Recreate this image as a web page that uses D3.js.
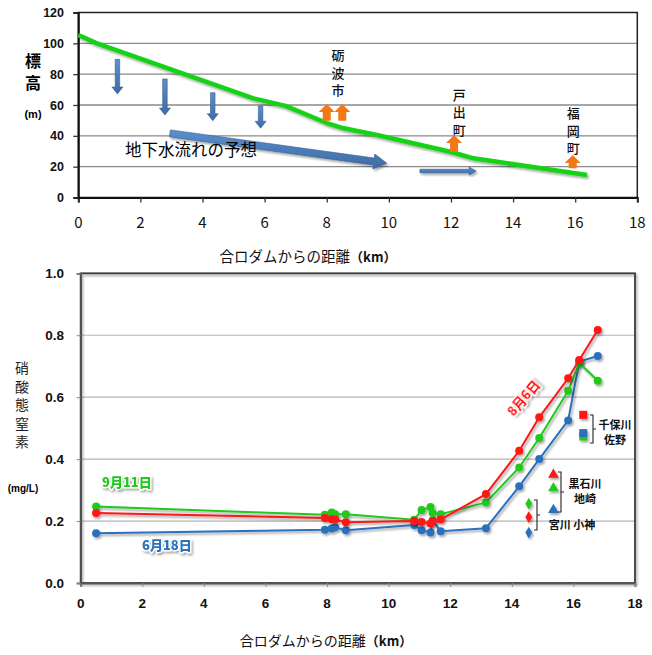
<!DOCTYPE html>
<html>
<head>
<meta charset="utf-8">
<script src="https://cdn.jsdelivr.net/npm/d3@7"></script>
<style>
  body { margin: 0; background: #fff; }
  svg { display: block; }
</style>
</head>
<body>
<svg id="chart" width="652" height="655"></svg>
<script>
// ---- top chart: elevation along the river ----
var elevKm = [0, 0.6, 5.64, 6.67, 8.0, 8.55, 9.62, 11.98, 12.73, 16.38];
var elevM  = [105.4, 100, 64.3, 59.4, 48.3, 44.9, 40.5, 29.7, 25.4, 14.6];
var topYTicks = [0, 20, 40, 60, 80, 100, 120];
var xTicks = [0, 2, 4, 6, 8, 10, 12, 14, 16, 18];

// downward seepage arrows: km, from, to (m)
var seepKm   = [1.26, 2.79, 4.33, 5.87];
var seepFrom = [89.6, 76.9, 68, 59.4];
var seepTo   = [67.1, 53.5, 49.8, 44.9];

// groundwater flow arrows
var flowArrows = [
  {x1: 2.95, y1: 41.6, x2: 9.93, y2: 22.2, big: true},
  {x1: 11.0, y1: 17.2, x2: 12.81, y2: 17.2, big: false}
];

// towns (orange arrows + labels)
var towns = ["砺波市", "戸出町", "福岡町"];
var townLabelKm = [8.36, 12.27, 15.94];
var townLabelTop = [92.4, 66.5, 54.6];
var townArrowKm = [[8.0, 8.5], [12.1], [15.92]];
var townArrowFrom = [49.8, 29.6, 18.9];
var townArrowTo = [60.6, 40.5, 27.6];

// ---- bottom chart: nitrate nitrogen ----
var distKm = [0.5, 7.93, 8.15, 8.26, 8.61, 10.83, 11.07, 11.36, 11.43, 11.69, 13.16, 14.24, 14.89, 15.83, 16.19, 16.79];
var aug6  = [0.226, 0.21, 0.206, 0.205, 0.196, 0.2, 0.197, 0.192, 0.2, 0.205, 0.287, 0.427, 0.535, 0.661, 0.72, 0.817];
var sep11 = [0.247, 0.22, 0.228, 0.222, 0.222, 0.204, 0.236, 0.245, 0.226, 0.222, 0.26, 0.373, 0.468, 0.621, 0.71, 0.653];
var jun18 = [0.161, 0.172, 0.176, 0.18, 0.17, 0.187, 0.17, 0.163, 0.202, 0.167, 0.177, 0.312, 0.4, 0.525, 0.715, 0.733];
var botYTicks = [0, 0.2, 0.4, 0.6, 0.8, 1.0];

// tributaries: km position, value per date [aug6, sep11, jun18]
var tribKm = {square: 16.32, triangle: 15.35, diamond: 14.55};
var tribSquare   = [0.543, 0.473, 0.484];
var tribTriangle = [0.35, 0.306, 0.236];
var tribDiamond  = [0.213, 0.256, 0.163];

var RED = "#ff1414", GREEN = "#22c81e", BLUE = "#2b71bd";
var JP = "'Noto Sans CJK JP', sans-serif";
var LAT = "'Liberation Sans', Arial, sans-serif";

var svg = d3.select("#chart");
var defs = svg.append("defs");
var f = defs.append("filter").attr("id", "shadow").attr("x", "-20%").attr("y", "-20%").attr("width", "140%").attr("height", "140%");
f.append("feDropShadow").attr("dx", 1.5).attr("dy", 2).attr("stdDeviation", 1.2)
  .attr("flood-color", "#000").attr("flood-opacity", 0.35);
var g1 = defs.append("linearGradient").attr("id", "blueGrad").attr("x1", 0).attr("y1", 0).attr("x2", 0).attr("y2", 1);
g1.append("stop").attr("offset", "0%").attr("stop-color", "#5b8fcf");
g1.append("stop").attr("offset", "100%").attr("stop-color", "#3d6aa6");

function arrowPts(x1, y1, x2, y2, sw, hw, hl) {
  var dx = x2 - x1, dy = y2 - y1, L = Math.hypot(dx, dy);
  var ux = dx / L, uy = dy / L, nx = -uy, ny = ux;
  var bx = x2 - ux * hl, by = y2 - uy * hl;
  return [[x1 + nx * sw / 2, y1 + ny * sw / 2], [bx + nx * sw / 2, by + ny * sw / 2],
          [bx + nx * hw / 2, by + ny * hw / 2], [x2, y2],
          [bx - nx * hw / 2, by - ny * hw / 2], [bx - nx * sw / 2, by - ny * sw / 2],
          [x1 - nx * sw / 2, y1 - ny * sw / 2]].map(function(p){ return p.join(","); }).join(" ");
}

// ================= TOP =================
var xT = d3.scaleLinear().domain([0, 18]).range([78.3, 637.3]);
var yT = d3.scaleLinear().domain([0, 120]).range([197.5, 12.5]);
var gTop = svg.append("g");

gTop.append("g").selectAll("line").data(topYTicks.filter(function(d){ return d > 0 && d < 120; }))
  .enter().append("line")
  .attr("x1", xT(0)).attr("x2", xT(18))
  .attr("y1", function(d){ return yT(d); }).attr("y2", function(d){ return yT(d); })
  .attr("stroke", "#8a8a8a").attr("stroke-width", 1.3);

gTop.append("rect").attr("x", xT(0)).attr("y", yT(120))
  .attr("width", xT(18) - xT(0)).attr("height", yT(0) - yT(120))
  .attr("fill", "none").attr("stroke", "#222").attr("stroke-width", 1.5);

var axT = gTop.append("g").attr("transform", "translate(0," + yT(0) + ")")
  .call(d3.axisBottom(xT).tickValues(xTicks).tickSize(5).tickFormat(""));
axT.select(".domain").attr("stroke", "#111").attr("stroke-width", 2);
axT.selectAll(".tick line").attr("stroke", "#333").attr("stroke-width", 1.3);
var ayT = gTop.append("g").attr("transform", "translate(" + xT(0) + ",0)")
  .call(d3.axisLeft(yT).tickValues(topYTicks).tickSize(5).tickFormat(""));
ayT.select(".domain").attr("stroke", "#111").attr("stroke-width", 2);
ayT.selectAll(".tick line").attr("stroke", "#333").attr("stroke-width", 1.3);

gTop.append("g").selectAll("text").data(topYTicks).enter().append("text")
  .attr("x", 64).attr("y", function(d){ return yT(d) + 4.5; })
  .attr("text-anchor", "end").attr("font-family", LAT).attr("font-weight", "bold")
  .attr("font-size", 12.5).attr("fill", "#111").text(function(d){ return d; });
gTop.append("g").selectAll("text").data(xTicks).enter().append("text")
  .attr("x", function(d){ return xT(d); }).attr("y", 228)
  .attr("text-anchor", "middle").attr("font-family", JP)
  .attr("font-size", 15).attr("fill", "#111").text(function(d){ return d; });

var tAx = gTop.append("text").attr("x", 308).attr("y", 262).attr("text-anchor", "middle")
  .attr("font-family", JP).attr("font-size", 14.5).attr("fill", "#111");
tAx.append("tspan").text("合ロダムからの距離");
tAx.append("tspan").attr("font-weight", "bold").attr("font-size", 13).text("（km）");

gTop.append("text").attr("x", 33).attr("y", 67).attr("text-anchor", "middle")
  .attr("font-family", JP).attr("font-weight", "bold").attr("font-size", 16).text("標");
gTop.append("text").attr("x", 33).attr("y", 89).attr("text-anchor", "middle")
  .attr("font-family", JP).attr("font-weight", "bold").attr("font-size", 16).text("高");
gTop.append("text").attr("x", 33).attr("y", 118).attr("text-anchor", "middle")
  .attr("font-family", LAT).attr("font-weight", "bold").attr("font-size", 11).text("(m)");

// seepage arrows
gTop.append("g").selectAll("polygon").data(seepKm).enter().append("polygon")
  .attr("points", function(d, i){ return arrowPts(xT(d), yT(seepFrom[i]), xT(d), yT(seepTo[i]), 4.5, 11, 7); })
  .attr("fill", "url(#blueGrad)").attr("stroke", "#385d8a").attr("stroke-width", 0.6);

// flow arrows
gTop.append("g").selectAll("polygon").data(flowArrows).enter().append("polygon")
  .attr("points", function(d){
    return d.big ? arrowPts(xT(d.x1), yT(d.y1), xT(d.x2), yT(d.y2), 7, 15, 13)
                 : arrowPts(xT(d.x1), yT(d.y1), xT(d.x2), yT(d.y2), 3.5, 8, 7);
  })
  .attr("fill", "url(#blueGrad)").attr("stroke", "#385d8a").attr("stroke-width", 0.6)
  .attr("filter", "url(#shadow)");

gTop.append("text").attr("x", 125).attr("y", 156).attr("font-family", JP)
  .attr("font-size", 16.5).attr("fill", "#000").text("地下水流れの予想");

// elevation line
var elevLine = d3.line().x(function(d){ return xT(d[0]); }).y(function(d){ return yT(d[1]); });
gTop.append("path").datum(elevKm.map(function(k, i){ return [k, elevM[i]]; }))
  .attr("d", elevLine).attr("fill", "none").attr("stroke", "#19d219")
  .attr("stroke-width", 4.5).attr("stroke-linejoin", "round").attr("filter", "url(#shadow)");

// towns
towns.forEach(function(name, i){
  townArrowKm[i].forEach(function(k){
    gTop.append("polygon")
      .attr("points", arrowPts(xT(k), yT(townArrowFrom[i]), xT(k), yT(townArrowTo[i]), 8, 16, 8))
      .attr("fill", "#f07817");
  });
  name.split("").forEach(function(c, j){
    gTop.append("text").attr("x", xT(townLabelKm[i])).attr("y", yT(townLabelTop[i]) + 5 + j * 17.5)
      .attr("text-anchor", "middle").attr("font-family", JP).attr("font-weight", "500")
      .attr("font-size", 13).attr("fill", "#111").text(c);
  });
});

// ================= BOTTOM =================
var xB = d3.scaleLinear().domain([0, 18]).range([80.7, 635]);
var yB = d3.scaleLinear().domain([0, 1]).range([583, 273.3]);
var bot = svg.append("g");

bot.append("g").selectAll("line").data(botYTicks.filter(function(d){ return d > 0 && d < 1; }))
  .enter().append("line")
  .attr("x1", xB(0)).attr("x2", xB(18))
  .attr("y1", function(d){ return yB(d); }).attr("y2", function(d){ return yB(d); })
  .attr("stroke", "#b4b4b4").attr("stroke-width", 1.2);

bot.append("rect").attr("x", xB(0)).attr("y", yB(1))
  .attr("width", xB(18) - xB(0)).attr("height", yB(0) - yB(1))
  .attr("fill", "none").attr("stroke", "#3a3a3a").attr("stroke-width", 1.8).attr("filter", "url(#shadow)");

var axB = bot.append("g").attr("transform", "translate(0," + yB(0) + ")")
  .call(d3.axisBottom(xB).tickValues(xTicks).tickSize(4).tickFormat(""));
axB.select(".domain").attr("stroke", "#555").attr("stroke-width", 1.8);
axB.selectAll(".tick line").attr("stroke", "#888");
var ayB = bot.append("g").attr("transform", "translate(" + xB(0) + ",0)")
  .call(d3.axisLeft(yB).tickValues(botYTicks).tickSize(4).tickFormat(""));
ayB.select(".domain").attr("stroke", "#555").attr("stroke-width", 1.8);
ayB.selectAll(".tick line").attr("stroke", "#888");

bot.append("g").selectAll("text").data(botYTicks).enter().append("text")
  .attr("x", 64).attr("y", function(d){ return yB(d) + 5; })
  .attr("text-anchor", "end").attr("font-family", LAT).attr("font-weight", "bold")
  .attr("font-size", 13.5).attr("fill", "#111").text(function(d){ return d.toFixed(1); });
bot.append("g").selectAll("text").data(xTicks).enter().append("text")
  .attr("x", function(d){ return xB(d); }).attr("y", 608)
  .attr("text-anchor", "middle").attr("font-family", LAT).attr("font-weight", "bold")
  .attr("font-size", 13.5).attr("fill", "#111").text(function(d){ return d; });

var bAx = bot.append("text").attr("x", 326).attr("y", 646).attr("text-anchor", "middle")
  .attr("font-family", JP).attr("font-size", 14).attr("fill", "#111");
bAx.append("tspan").text("合ロダムからの距離");
bAx.append("tspan").attr("font-weight", "bold").attr("font-size", 13).text("（km）");

"硝酸態窒素".split("").forEach(function(c, j){
  bot.append("text").attr("x", 22).attr("y", 373 + j * 18.6).attr("text-anchor", "middle")
    .attr("font-family", JP).attr("font-size", 14).attr("fill", "#222").text(c);
});
bot.append("text").attr("x", 23).attr("y", 492).attr("text-anchor", "middle")
  .attr("font-family", LAT).attr("font-weight", "bold").attr("font-size", 10).text("(mg/L)");

var series = [
  {vals: jun18, color: BLUE},
  {vals: sep11, color: GREEN},
  {vals: aug6, color: RED}
];
var lineB = d3.line().x(function(d){ return xB(d[0]); }).y(function(d){ return yB(d[1]); });
series.forEach(function(s){
  var pts = distKm.map(function(k, i){ return [k, s.vals[i]]; });
  var g = bot.append("g").attr("filter", "url(#shadow)");
  g.append("path").datum(pts).attr("d", lineB).attr("fill", "none")
    .attr("stroke", s.color).attr("stroke-width", 2);
  g.selectAll("circle").data(pts).enter().append("circle")
    .attr("cx", function(d){ return xB(d[0]); }).attr("cy", function(d){ return yB(d[1]); })
    .attr("r", 4).attr("fill", s.color);
});

// tributary markers
var dateColors = [RED, GREEN, BLUE];
var tg = bot.append("g").attr("filter", "url(#shadow)");
tribSquare.forEach(function(v, i){
  tg.append("rect").attr("x", xB(tribKm.square) - 4).attr("y", yB(v) - 4)
    .attr("width", 8).attr("height", 8).attr("fill", dateColors[i]);
});
tribTriangle.forEach(function(v, i){
  tg.append("path").attr("d", d3.symbol().type(d3.symbolTriangle).size(50)())
    .attr("transform", "translate(" + xB(tribKm.triangle) + "," + yB(v) + ")").attr("fill", dateColors[i]);
});
tribDiamond.forEach(function(v, i){
  tg.append("path").attr("d", d3.symbol().type(d3.symbolDiamond).size(40)())
    .attr("transform", "translate(" + xB(tribKm.diamond) + "," + yB(v) + ")").attr("fill", dateColors[i]);
});

// brackets and tributary names
function bracket(x, y1, y2) {
  bot.append("path").attr("d", "M" + (x - 3) + "," + y1 + "H" + x + "V" + y2 + "H" + (x - 3)
      + "M" + x + "," + ((y1 + y2) / 2) + "H" + (x + 3))
    .attr("fill", "none").attr("stroke", "#222").attr("stroke-width", 1.1);
}
bracket(593, 415, 443);
bracket(561, 472, 512);
bracket(537, 500, 530);
function tlabel(x, y, t) {
  bot.append("text").attr("x", x).attr("y", y).attr("text-anchor", "middle")
    .attr("font-family", JP).attr("font-weight", "bold").attr("font-size", 11)
    .attr("fill", "#111").text(t);
}
tlabel(615, 429, "千保川");
tlabel(615, 444, "佐野");
tlabel(585, 487.5, "黒石川");
tlabel(585, 502.5, "地崎");
tlabel(572, 529, "宮川 小神");

// date labels
function dlabel(x, y, t, color, rot) {
  bot.append("text").attr("x", x).attr("y", y).attr("text-anchor", rot ? "middle" : "start")
    .attr("transform", rot ? "rotate(" + rot + "," + x + "," + y + ")" : null)
    .attr("font-family", JP).attr("font-weight", "900").attr("font-size", 13)
    .attr("fill", color).attr("stroke", "#fff").attr("stroke-width", 2.5)
    .attr("paint-order", "stroke").attr("filter", "url(#shadow)").text(t);
}
dlabel(102, 487, "9月11日", GREEN);
dlabel(142, 550, "6月18日", BLUE);
dlabel(527, 401, "8月6日", RED, -50);
</script>
</body>
</html>
